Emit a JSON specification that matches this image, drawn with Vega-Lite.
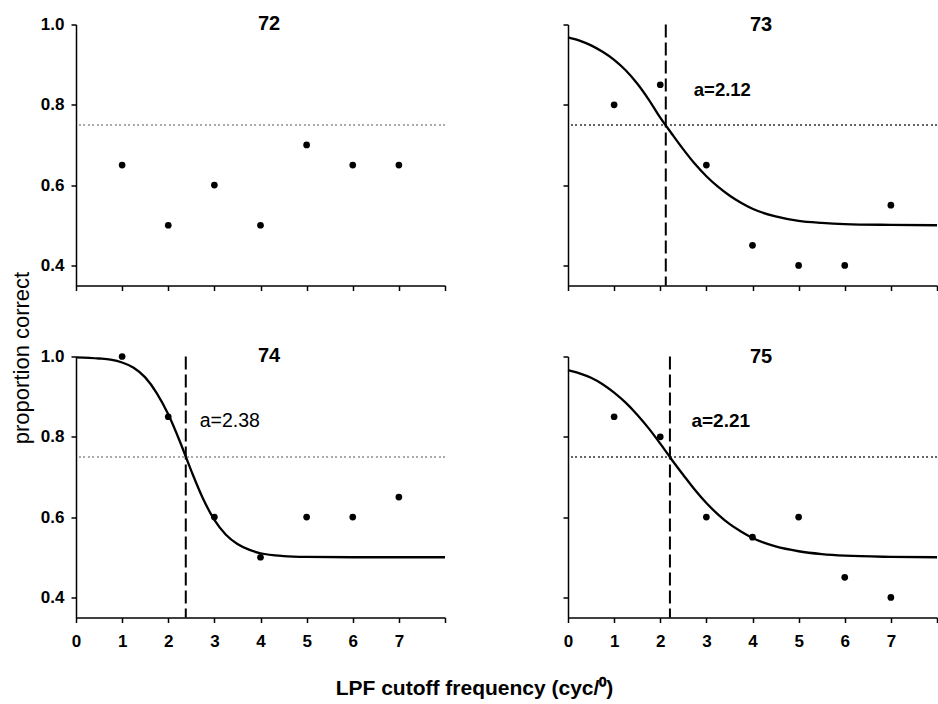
{
  "$schema": "https://vega.github.io/schema/vega-lite/v6.json",
  "background": "white",
  "padding": {"left": 10, "top": 13.5, "right": 0, "bottom": 0},
  "config": {
    "view": {"stroke": null},
    "font": "Liberation Sans",
    "axis": {
      "grid": false,
      "domainColor": "black",
      "domainWidth": 1.5,
      "tickColor": "black",
      "tickWidth": 1.5,
      "tickSize": 5,
      "labelColor": "black",
      "labelFont": "Liberation Sans",
      "labelFontSize": 17,
      "labelFontWeight": "bold",
      "labelFlush": false,
      "labelOverlap": false,
      "titleColor": "black",
      "titleFont": "Liberation Sans"
    },
    "title": {
      "fontSize": 20,
      "fontWeight": "bold",
      "font": "Liberation Sans",
      "color": "black",
      "baseline": "alphabetic",
      "frame": "group",
      "anchor": "middle",
      "dx": 8.5
    }
  },
  "datasets": {
    "points": [
      {"panel": "72", "x": 1, "y": 0.65}, {"panel": "72", "x": 2, "y": 0.5}, {"panel": "72", "x": 3, "y": 0.6},
      {"panel": "72", "x": 4, "y": 0.5}, {"panel": "72", "x": 5, "y": 0.7}, {"panel": "72", "x": 6, "y": 0.65},
      {"panel": "72", "x": 7, "y": 0.65},
      {"panel": "73", "x": 1, "y": 0.8}, {"panel": "73", "x": 2, "y": 0.85}, {"panel": "73", "x": 3, "y": 0.65},
      {"panel": "73", "x": 4, "y": 0.45}, {"panel": "73", "x": 5, "y": 0.4}, {"panel": "73", "x": 6, "y": 0.4},
      {"panel": "73", "x": 7, "y": 0.55},
      {"panel": "74", "x": 1, "y": 1.0}, {"panel": "74", "x": 2, "y": 0.85}, {"panel": "74", "x": 3, "y": 0.6},
      {"panel": "74", "x": 4, "y": 0.5}, {"panel": "74", "x": 5, "y": 0.6}, {"panel": "74", "x": 6, "y": 0.6},
      {"panel": "74", "x": 7, "y": 0.65},
      {"panel": "75", "x": 1, "y": 0.85}, {"panel": "75", "x": 2, "y": 0.8}, {"panel": "75", "x": 3, "y": 0.6},
      {"panel": "75", "x": 4, "y": 0.55}, {"panel": "75", "x": 5, "y": 0.6}, {"panel": "75", "x": 6, "y": 0.45},
      {"panel": "75", "x": 7, "y": 0.4}
    ],
    "curves": [
      {"panel": "73", "x": 0, "y": 0.968}, {"panel": "73", "x": 0.25, "y": 0.96}, {"panel": "73", "x": 0.5, "y": 0.948},
      {"panel": "73", "x": 0.75, "y": 0.932}, {"panel": "73", "x": 1.0, "y": 0.912}, {"panel": "73", "x": 1.25, "y": 0.886},
      {"panel": "73", "x": 1.5, "y": 0.853}, {"panel": "73", "x": 1.75, "y": 0.813}, {"panel": "73", "x": 2.0, "y": 0.768},
      {"panel": "73", "x": 2.25, "y": 0.728}, {"panel": "73", "x": 2.5, "y": 0.689}, {"panel": "73", "x": 2.75, "y": 0.653},
      {"panel": "73", "x": 3.0, "y": 0.622}, {"panel": "73", "x": 3.25, "y": 0.596}, {"panel": "73", "x": 3.5, "y": 0.574},
      {"panel": "73", "x": 3.75, "y": 0.556}, {"panel": "73", "x": 4.0, "y": 0.541}, {"panel": "73", "x": 4.5, "y": 0.522},
      {"panel": "73", "x": 5.0, "y": 0.511}, {"panel": "73", "x": 5.5, "y": 0.506}, {"panel": "73", "x": 6.0, "y": 0.503},
      {"panel": "73", "x": 7.0, "y": 0.501}, {"panel": "73", "x": 8.0, "y": 0.5},
      {"panel": "74", "x": 0, "y": 0.998}, {"panel": "74", "x": 0.5, "y": 0.995}, {"panel": "74", "x": 0.75, "y": 0.992},
      {"panel": "74", "x": 1.0, "y": 0.985}, {"panel": "74", "x": 1.25, "y": 0.972}, {"panel": "74", "x": 1.5, "y": 0.948},
      {"panel": "74", "x": 1.75, "y": 0.909}, {"panel": "74", "x": 2.0, "y": 0.856}, {"panel": "74", "x": 2.25, "y": 0.789},
      {"panel": "74", "x": 2.5, "y": 0.715}, {"panel": "74", "x": 2.75, "y": 0.647}, {"panel": "74", "x": 3.0, "y": 0.593},
      {"panel": "74", "x": 3.25, "y": 0.556}, {"panel": "74", "x": 3.5, "y": 0.533}, {"panel": "74", "x": 3.75, "y": 0.519},
      {"panel": "74", "x": 4.0, "y": 0.51}, {"panel": "74", "x": 4.5, "y": 0.503}, {"panel": "74", "x": 5.0, "y": 0.501},
      {"panel": "74", "x": 6.0, "y": 0.5}, {"panel": "74", "x": 8.0, "y": 0.5},
      {"panel": "75", "x": 0, "y": 0.966}, {"panel": "75", "x": 0.25, "y": 0.958}, {"panel": "75", "x": 0.5, "y": 0.947},
      {"panel": "75", "x": 0.75, "y": 0.931}, {"panel": "75", "x": 1.0, "y": 0.91}, {"panel": "75", "x": 1.25, "y": 0.885},
      {"panel": "75", "x": 1.5, "y": 0.855}, {"panel": "75", "x": 1.75, "y": 0.821}, {"panel": "75", "x": 2.0, "y": 0.783},
      {"panel": "75", "x": 2.25, "y": 0.743}, {"panel": "75", "x": 2.5, "y": 0.705}, {"panel": "75", "x": 2.75, "y": 0.668},
      {"panel": "75", "x": 3.0, "y": 0.635}, {"panel": "75", "x": 3.25, "y": 0.607}, {"panel": "75", "x": 3.5, "y": 0.583},
      {"panel": "75", "x": 3.75, "y": 0.564}, {"panel": "75", "x": 4.0, "y": 0.548}, {"panel": "75", "x": 4.5, "y": 0.527},
      {"panel": "75", "x": 5.0, "y": 0.515}, {"panel": "75", "x": 5.5, "y": 0.508}, {"panel": "75", "x": 6.0, "y": 0.504},
      {"panel": "75", "x": 7.0, "y": 0.501}, {"panel": "75", "x": 8.0, "y": 0.5}
    ],
    "thresholds": [
      {"panel": "73", "a": 2.12, "label": "a=2.12"},
      {"panel": "74", "a": 2.38, "label": "a=2.38"},
      {"panel": "75", "a": 2.21, "label": "a=2.21"}
    ]
  },
  "columns": 2,
  "spacing": {"row": 71, "column": 123},
  "bounds": "flush",
  "concat": [
    {
      "width": 369, "height": 261,
      "title": {"text": "72", "offset": -18.5},
      "layer": [
        {
          "data": {"name": "points"},
          "mark": {"type": "rule", "color": "#aaaaaa", "strokeDash": [1.5, 3], "strokeWidth": 1.2},
          "encoding": {"y": {"datum": 0.75, "type": "quantitative", "scale": {"domain": [0.35, 1], "nice": false, "zero": false},
                  "axis": {"values": [0.4, 0.6, 0.8, 1.0], "format": ".1f", "labelPadding": 7,
                           "title": "proportion correct", "titleFontSize": 22, "titleFontWeight": "normal",
                           "titleX": -47.5, "titleY": 333, "titleAlign": "center", "titleBaseline": "alphabetic", "titleAngle": -90}}}
        },
        {
          "data": {"name": "points"},
          "transform": [{"filter": "datum.panel == '72'"}],
          "mark": {"type": "circle", "size": 45, "color": "black", "opacity": 1},
          "encoding": {
            "x": {"field": "x", "type": "quantitative", "scale": {"domain": [0, 8], "nice": false, "zero": false},
                  "axis": {"values": [0, 1, 2, 3, 4, 5, 6, 7, 8], "labels": false, "title": null}},
            "y": {"field": "y", "type": "quantitative", "scale": {"domain": [0.35, 1], "nice": false, "zero": false},
                  "axis": {"values": [0.4, 0.6, 0.8, 1.0], "format": ".1f", "labelPadding": 7,
                           "title": "proportion correct", "titleFontSize": 22, "titleFontWeight": "normal",
                           "titleX": -47.5, "titleY": 333, "titleAlign": "center", "titleBaseline": "alphabetic", "titleAngle": -90}}
          }
        }
      ]
    },
    {
      "width": 369, "height": 261,
      "title": {"text": "73", "offset": -11},
      "layer": [
        {
          "data": {"name": "points"},
          "mark": {"type": "rule", "color": "#666666", "strokeDash": [1.5, 3], "strokeWidth": 1.2},
          "encoding": {"y": {"datum": 0.75, "type": "quantitative", "scale": {"domain": [0.35, 1], "nice": false, "zero": false},
                  "axis": {"values": [0.4, 0.6, 0.8, 1.0], "labels": false, "title": null}}}
        },
        {
          "data": {"name": "thresholds"},
          "transform": [{"filter": "datum.panel == '73'"}],
          "mark": {"type": "rule", "color": "black", "strokeDash": [13, 5], "strokeWidth": 2},
          "encoding": {"x": {"field": "a", "type": "quantitative", "scale": {"domain": [0, 8], "nice": false, "zero": false},
                  "axis": {"values": [0, 1, 2, 3, 4, 5, 6, 7, 8], "labels": false, "title": null}}}
        },
        {
          "data": {"name": "curves"},
          "transform": [{"filter": "datum.panel == '73'"}],
          "mark": {"type": "line", "color": "black", "strokeWidth": 2.3, "interpolate": "monotone"},
          "encoding": {
            "x": {"field": "x", "type": "quantitative", "scale": {"domain": [0, 8], "nice": false, "zero": false},
                  "axis": {"values": [0, 1, 2, 3, 4, 5, 6, 7, 8], "labels": false, "title": null}},
            "y": {"field": "y", "type": "quantitative", "scale": {"domain": [0.35, 1], "nice": false, "zero": false},
                  "axis": {"values": [0.4, 0.6, 0.8, 1.0], "labels": false, "title": null}}
          }
        },
        {
          "data": {"name": "thresholds"},
          "transform": [{"filter": "datum.panel == '73'"}],
          "mark": {"type": "text", "align": "left", "baseline": "middle", "dx": 28, "fontSize": 18.5, "fontWeight": "bold", "color": "black"},
          "encoding": {
            "x": {"field": "a", "type": "quantitative", "scale": {"domain": [0, 8], "nice": false, "zero": false},
                  "axis": {"values": [0, 1, 2, 3, 4, 5, 6, 7, 8], "labels": false, "title": null}},
            "y": {"datum": 0.837, "type": "quantitative", "scale": {"domain": [0.35, 1], "nice": false, "zero": false},
                  "axis": {"values": [0.4, 0.6, 0.8, 1.0], "labels": false, "title": null}},
            "text": {"field": "label"}
          }
        },
        {
          "data": {"name": "points"},
          "transform": [{"filter": "datum.panel == '73'"}],
          "mark": {"type": "circle", "size": 45, "color": "black", "opacity": 1},
          "encoding": {
            "x": {"field": "x", "type": "quantitative", "scale": {"domain": [0, 8], "nice": false, "zero": false},
                  "axis": {"values": [0, 1, 2, 3, 4, 5, 6, 7, 8], "labels": false, "title": null}},
            "y": {"field": "y", "type": "quantitative", "scale": {"domain": [0.35, 1], "nice": false, "zero": false},
                  "axis": {"values": [0.4, 0.6, 0.8, 1.0], "labels": false, "title": null}}
          }
        }
      ]
    },
    {
      "width": 369, "height": 261,
      "title": {"text": "74", "offset": -18.5},
      "layer": [
        {
          "data": {"name": "points"},
          "mark": {"type": "rule", "color": "#aaaaaa", "strokeDash": [1.5, 3], "strokeWidth": 1.2},
          "encoding": {"y": {"datum": 0.75, "type": "quantitative", "scale": {"domain": [0.35, 1], "nice": false, "zero": false},
                  "axis": {"values": [0.4, 0.6, 0.8, 1.0], "format": ".1f", "labelPadding": 7, "title": null}}}
        },
        {
          "data": {"name": "thresholds"},
          "transform": [{"filter": "datum.panel == '74'"}],
          "mark": {"type": "rule", "color": "black", "strokeDash": [13, 5], "strokeWidth": 2},
          "encoding": {"x": {"field": "a", "type": "quantitative", "scale": {"domain": [0, 8], "nice": false, "zero": false},
                  "axis": {"values": [0, 1, 2, 3, 4, 5, 6, 7, 8], "labelExpr": "datum.value == 8 ? '' : datum.label", "labelPadding": 11,
                           "title": "LPF cutoff frequency (cyc/⁰)", "titleFontSize": 21, "titleFontWeight": "bold",
                           "titleX": 398, "titleY": 77, "titleAlign": "center", "titleBaseline": "alphabetic"}}}
        },
        {
          "data": {"name": "curves"},
          "transform": [{"filter": "datum.panel == '74'"}],
          "mark": {"type": "line", "color": "black", "strokeWidth": 2.3, "interpolate": "monotone"},
          "encoding": {
            "x": {"field": "x", "type": "quantitative", "scale": {"domain": [0, 8], "nice": false, "zero": false},
                  "axis": {"values": [0, 1, 2, 3, 4, 5, 6, 7, 8], "labelExpr": "datum.value == 8 ? '' : datum.label", "labelPadding": 11,
                           "title": "LPF cutoff frequency (cyc/⁰)", "titleFontSize": 21, "titleFontWeight": "bold",
                           "titleX": 398, "titleY": 77, "titleAlign": "center", "titleBaseline": "alphabetic"}},
            "y": {"field": "y", "type": "quantitative", "scale": {"domain": [0.35, 1], "nice": false, "zero": false},
                  "axis": {"values": [0.4, 0.6, 0.8, 1.0], "format": ".1f", "labelPadding": 7, "title": null}}
          }
        },
        {
          "data": {"name": "thresholds"},
          "transform": [{"filter": "datum.panel == '74'"}],
          "mark": {"type": "text", "align": "left", "baseline": "middle", "dx": 14, "fontSize": 19.5, "fontWeight": "normal", "color": "black"},
          "encoding": {
            "x": {"field": "a", "type": "quantitative", "scale": {"domain": [0, 8], "nice": false, "zero": false},
                  "axis": {"values": [0, 1, 2, 3, 4, 5, 6, 7, 8], "labelExpr": "datum.value == 8 ? '' : datum.label", "labelPadding": 11,
                           "title": "LPF cutoff frequency (cyc/⁰)", "titleFontSize": 21, "titleFontWeight": "bold",
                           "titleX": 398, "titleY": 77, "titleAlign": "center", "titleBaseline": "alphabetic"}},
            "y": {"datum": 0.84, "type": "quantitative", "scale": {"domain": [0.35, 1], "nice": false, "zero": false},
                  "axis": {"values": [0.4, 0.6, 0.8, 1.0], "format": ".1f", "labelPadding": 7, "title": null}},
            "text": {"field": "label"}
          }
        },
        {
          "data": {"name": "points"},
          "transform": [{"filter": "datum.panel == '74'"}],
          "mark": {"type": "circle", "size": 45, "color": "black", "opacity": 1},
          "encoding": {
            "x": {"field": "x", "type": "quantitative", "scale": {"domain": [0, 8], "nice": false, "zero": false},
                  "axis": {"values": [0, 1, 2, 3, 4, 5, 6, 7, 8], "labelExpr": "datum.value == 8 ? '' : datum.label", "labelPadding": 11,
                           "title": "LPF cutoff frequency (cyc/⁰)", "titleFontSize": 21, "titleFontWeight": "bold",
                           "titleX": 398, "titleY": 77, "titleAlign": "center", "titleBaseline": "alphabetic"}},
            "y": {"field": "y", "type": "quantitative", "scale": {"domain": [0.35, 1], "nice": false, "zero": false},
                  "axis": {"values": [0.4, 0.6, 0.8, 1.0], "format": ".1f", "labelPadding": 7, "title": null}}
          }
        }
      ]
    },
    {
      "width": 369, "height": 261,
      "title": {"text": "75", "offset": -11},
      "layer": [
        {
          "data": {"name": "points"},
          "mark": {"type": "rule", "color": "#666666", "strokeDash": [1.5, 3], "strokeWidth": 1.2},
          "encoding": {"y": {"datum": 0.75, "type": "quantitative", "scale": {"domain": [0.35, 1], "nice": false, "zero": false},
                  "axis": {"values": [0.4, 0.6, 0.8, 1.0], "labels": false, "title": null}}}
        },
        {
          "data": {"name": "thresholds"},
          "transform": [{"filter": "datum.panel == '75'"}],
          "mark": {"type": "rule", "color": "black", "strokeDash": [13, 5], "strokeWidth": 2},
          "encoding": {"x": {"field": "a", "type": "quantitative", "scale": {"domain": [0, 8], "nice": false, "zero": false},
                  "axis": {"values": [0, 1, 2, 3, 4, 5, 6, 7, 8], "labelExpr": "datum.value == 8 ? '' : datum.label", "labelPadding": 11, "title": null}}}
        },
        {
          "data": {"name": "curves"},
          "transform": [{"filter": "datum.panel == '75'"}],
          "mark": {"type": "line", "color": "black", "strokeWidth": 2.3, "interpolate": "monotone"},
          "encoding": {
            "x": {"field": "x", "type": "quantitative", "scale": {"domain": [0, 8], "nice": false, "zero": false},
                  "axis": {"values": [0, 1, 2, 3, 4, 5, 6, 7, 8], "labelExpr": "datum.value == 8 ? '' : datum.label", "labelPadding": 11, "title": null}},
            "y": {"field": "y", "type": "quantitative", "scale": {"domain": [0.35, 1], "nice": false, "zero": false},
                  "axis": {"values": [0.4, 0.6, 0.8, 1.0], "labels": false, "title": null}}
          }
        },
        {
          "data": {"name": "thresholds"},
          "transform": [{"filter": "datum.panel == '75'"}],
          "mark": {"type": "text", "align": "left", "baseline": "middle", "dx": 21.5, "fontSize": 19, "fontWeight": "bold", "color": "black"},
          "encoding": {
            "x": {"field": "a", "type": "quantitative", "scale": {"domain": [0, 8], "nice": false, "zero": false},
                  "axis": {"values": [0, 1, 2, 3, 4, 5, 6, 7, 8], "labelExpr": "datum.value == 8 ? '' : datum.label", "labelPadding": 11, "title": null}},
            "y": {"datum": 0.84, "type": "quantitative", "scale": {"domain": [0.35, 1], "nice": false, "zero": false},
                  "axis": {"values": [0.4, 0.6, 0.8, 1.0], "labels": false, "title": null}},
            "text": {"field": "label"}
          }
        },
        {
          "data": {"name": "points"},
          "transform": [{"filter": "datum.panel == '75'"}],
          "mark": {"type": "circle", "size": 45, "color": "black", "opacity": 1},
          "encoding": {
            "x": {"field": "x", "type": "quantitative", "scale": {"domain": [0, 8], "nice": false, "zero": false},
                  "axis": {"values": [0, 1, 2, 3, 4, 5, 6, 7, 8], "labelExpr": "datum.value == 8 ? '' : datum.label", "labelPadding": 11, "title": null}},
            "y": {"field": "y", "type": "quantitative", "scale": {"domain": [0.35, 1], "nice": false, "zero": false},
                  "axis": {"values": [0.4, 0.6, 0.8, 1.0], "labels": false, "title": null}}
          }
        }
      ]
    }
  ]
}
